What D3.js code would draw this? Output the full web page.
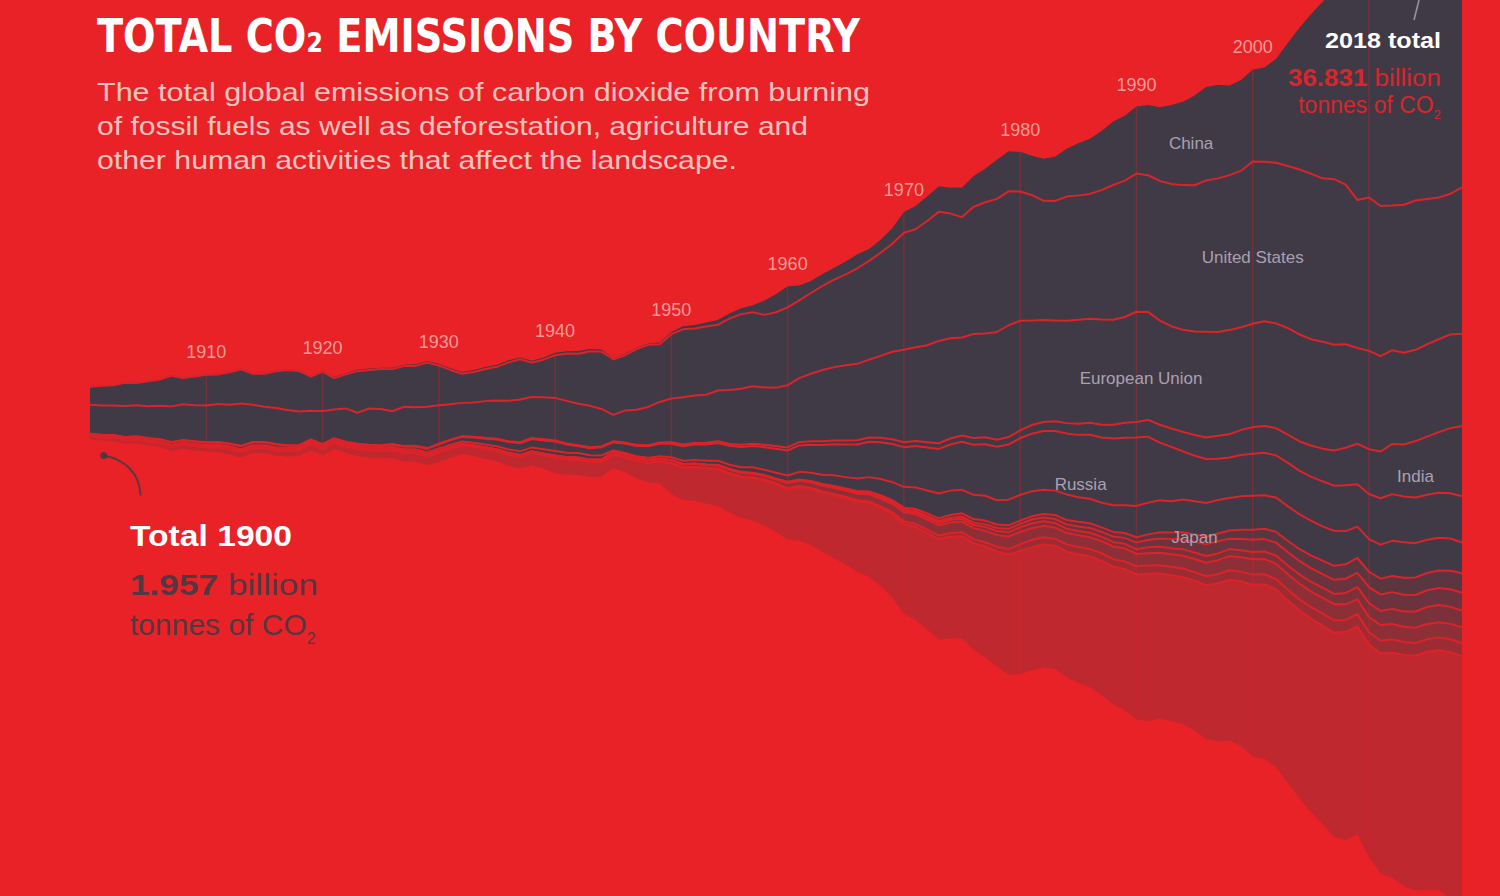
<!DOCTYPE html>
<html><head><meta charset="utf-8">
<script src="https://cdn.jsdelivr.net/npm/d3@7"></script>
<style>html,body{margin:0;padding:0;background:#e92227;overflow:hidden}svg{display:block}</style>
</head><body><svg id="chart" width="1500" height="896"></svg>
<script>
// ---------- DATA (billion tonnes CO2 per year, 1900–2018) ----------
const firstYear = 1900, lastYear = 2018;
const years = d3.range(firstYear, lastYear + 1);

const china = [0.01,0.01,0.01,0.01,0.01,0.01,0.01,0.02,0.02,0.02,
 0.02,0.02,0.02,0.03,0.03,0.03,0.03,0.03,0.03,0.03,
 0.04,0.04,0.04,0.05,0.05,0.05,0.05,0.05,0.06,0.06,
 0.06,0.06,0.06,0.07,0.07,0.08,0.08,0.07,0.07,0.08,
 0.09,0.09,0.10,0.09,0.08,0.04,0.05,0.05,0.05,0.06,
 0.08,0.11,0.13,0.15,0.18,0.19,0.22,0.26,0.53,0.67,
 0.78,0.55,0.44,0.44,0.44,0.48,0.52,0.44,0.48,0.57,
 0.77,0.86,0.91,0.95,0.96,1.10,1.14,1.24,1.45,1.48,
 1.47,1.45,1.56,1.64,1.77,1.93,2.04,2.19,2.35,2.40,
 2.48,2.60,2.73,2.92,3.09,3.32,3.46,3.47,3.32,3.36,
 3.41,3.49,3.84,4.54,5.23,5.90,6.53,7.03,7.38,7.71,
 8.47,9.39,9.54,9.80,9.82,9.72,9.70,9.84,10.06];

const unitedStates = [0.66,0.73,0.75,0.86,0.83,0.93,0.97,1.13,0.98,1.07,
 1.14,1.10,1.20,1.27,1.15,1.22,1.36,1.48,1.50,1.26,
 1.46,1.16,1.26,1.54,1.43,1.48,1.56,1.51,1.53,1.64,
 1.47,1.27,1.08,1.13,1.19,1.25,1.42,1.49,1.27,1.39,
 1.58,1.75,1.85,2.02,2.12,2.06,2.05,2.25,2.30,2.14,
 2.38,2.52,2.48,2.53,2.43,2.64,2.76,2.74,2.69,2.79,
 2.89,2.88,2.99,3.11,3.24,3.37,3.54,3.66,3.82,4.00,
 4.33,4.37,4.60,4.78,4.62,4.46,4.71,4.86,4.93,4.96,
 4.79,4.65,4.42,4.43,4.60,4.61,4.62,4.79,4.99,5.05,
 5.12,5.06,5.17,5.27,5.36,5.42,5.61,5.69,5.74,5.80,
 6.01,5.91,5.95,6.00,6.11,6.13,6.05,6.13,5.91,5.48,
 5.68,5.56,5.36,5.48,5.53,5.38,5.25,5.21,5.42];

const europeanUnion = [1.08,1.08,1.09,1.14,1.15,1.18,1.24,1.32,1.32,1.33,
 1.36,1.40,1.43,1.56,1.38,1.30,1.33,1.30,1.24,1.06,
 1.23,1.06,1.23,1.15,1.34,1.34,1.21,1.45,1.43,1.53,
 1.43,1.31,1.23,1.27,1.36,1.41,1.50,1.58,1.52,1.56,
 1.58,1.58,1.54,1.53,1.38,0.98,1.18,1.30,1.42,1.50,
 1.62,1.75,1.76,1.78,1.88,2.00,2.08,2.13,2.12,2.16,
 2.30,2.37,2.50,2.64,2.72,2.78,2.83,2.88,3.03,3.24,
 3.43,3.47,3.59,3.79,3.71,3.63,3.86,3.84,3.99,4.14,
 4.06,3.87,3.77,3.73,3.79,3.85,3.86,3.90,3.89,3.92,
 4.08,4.00,3.86,3.79,3.78,3.83,3.91,3.84,3.86,3.80,
 3.83,3.88,3.88,3.95,3.96,3.94,3.96,3.92,3.83,3.55,
 3.64,3.53,3.47,3.40,3.38,3.42,3.44,3.47,3.42];

const india = [0.01,0.01,0.01,0.01,0.01,0.01,0.01,0.02,0.02,0.02,
 0.02,0.02,0.02,0.02,0.02,0.02,0.02,0.02,0.03,0.03,
 0.03,0.03,0.03,0.03,0.03,0.03,0.03,0.03,0.03,0.03,
 0.03,0.03,0.03,0.03,0.03,0.03,0.03,0.04,0.04,0.04,
 0.04,0.04,0.04,0.04,0.04,0.04,0.04,0.04,0.04,0.05,
 0.06,0.06,0.06,0.06,0.07,0.07,0.08,0.08,0.09,0.10,
 0.11,0.12,0.13,0.14,0.14,0.15,0.16,0.16,0.17,0.18,
 0.18,0.19,0.20,0.21,0.22,0.23,0.25,0.26,0.26,0.28,
 0.29,0.32,0.34,0.36,0.38,0.41,0.44,0.47,0.51,0.55,
 0.58,0.62,0.66,0.68,0.72,0.77,0.80,0.85,0.86,0.93,
 0.98,0.99,1.01,1.04,1.09,1.15,1.21,1.30,1.39,1.50,
 1.66,1.73,1.86,1.93,2.09,2.15,2.24,2.41,2.60];

const russia = [0.06,0.06,0.06,0.07,0.07,0.06,0.07,0.08,0.08,0.08,
 0.08,0.09,0.09,0.11,0.10,0.10,0.10,0.08,0.04,0.03,
 0.03,0.03,0.03,0.04,0.05,0.06,0.08,0.09,0.10,0.12,
 0.14,0.16,0.17,0.19,0.22,0.25,0.28,0.30,0.31,0.33,
 0.35,0.30,0.25,0.26,0.30,0.30,0.35,0.38,0.42,0.46,
 0.50,0.54,0.57,0.60,0.65,0.70,0.75,0.79,0.84,0.89,
 0.93,0.98,1.04,1.10,1.15,1.21,1.26,1.31,1.36,1.41,
 1.47,1.53,1.59,1.65,1.71,1.78,1.85,1.91,1.98,2.04,
 2.10,2.13,2.17,2.21,2.26,2.31,2.37,2.42,2.47,2.50,
 2.53,2.45,2.14,2.01,1.78,1.68,1.63,1.53,1.50,1.53,
 1.56,1.58,1.56,1.61,1.61,1.63,1.67,1.67,1.70,1.57,
 1.67,1.72,1.73,1.69,1.69,1.67,1.67,1.68,1.71];

const japan = [0.02,0.02,0.02,0.02,0.03,0.03,0.03,0.03,0.03,0.03,
 0.04,0.04,0.05,0.05,0.05,0.05,0.05,0.06,0.06,0.07,
 0.07,0.06,0.06,0.07,0.07,0.07,0.07,0.08,0.08,0.08,
 0.08,0.08,0.08,0.09,0.10,0.11,0.12,0.13,0.14,0.15,
 0.16,0.16,0.16,0.16,0.15,0.06,0.05,0.06,0.08,0.09,
 0.10,0.12,0.13,0.14,0.15,0.15,0.17,0.20,0.19,0.21,
 0.23,0.28,0.30,0.34,0.39,0.42,0.46,0.53,0.60,0.67,
 0.77,0.80,0.85,0.92,0.90,0.87,0.90,0.92,0.90,0.95,
 0.95,0.93,0.90,0.90,0.95,0.91,0.91,0.91,0.99,1.03,
 1.16,1.17,1.18,1.16,1.22,1.23,1.25,1.24,1.20,1.24,
 1.26,1.24,1.27,1.28,1.29,1.29,1.27,1.30,1.23,1.16,
 1.21,1.26,1.30,1.32,1.27,1.23,1.21,1.19,1.14];

const iran = [0,0,0,0,0,0,0,0,0,0,
 0,0,0,0,0,0,0,0,0,0,
 0,0,0,0,0,0,0,0,0,0,
 0.01,0.01,0.01,0.01,0.01,0.01,0.01,0.01,0.01,0.01,
 0.01,0.01,0.01,0.01,0.01,0.01,0.01,0.01,0.01,0.01,
 0.01,0.01,0.01,0.01,0.01,0.02,0.02,0.02,0.02,0.02,
 0.03,0.03,0.03,0.03,0.04,0.04,0.04,0.05,0.05,0.06,
 0.07,0.08,0.09,0.10,0.11,0.12,0.13,0.14,0.13,0.13,
 0.12,0.12,0.13,0.15,0.16,0.17,0.17,0.17,0.17,0.18,
 0.20,0.21,0.23,0.24,0.26,0.27,0.28,0.29,0.31,0.34,
 0.37,0.38,0.40,0.42,0.44,0.47,0.50,0.52,0.53,0.55,
 0.57,0.59,0.60,0.63,0.65,0.64,0.65,0.69,0.72];

const southKorea = [0,0,0,0,0,0,0,0,0,0,
 0,0,0,0,0,0,0,0,0,0,
 0,0,0,0,0,0,0,0,0,0,
 0,0,0,0,0,0,0,0,0,0,
 0,0,0,0,0,0,0,0,0,0,
 0,0,0,0,0.01,0.01,0.01,0.01,0.01,0.01,
 0.01,0.01,0.01,0.02,0.02,0.02,0.03,0.03,0.04,0.04,
 0.05,0.06,0.06,0.07,0.07,0.08,0.09,0.10,0.11,0.13,
 0.13,0.14,0.14,0.15,0.16,0.17,0.18,0.18,0.20,0.22,
 0.25,0.27,0.30,0.34,0.37,0.40,0.43,0.45,0.38,0.42,
 0.45,0.46,0.48,0.49,0.50,0.50,0.50,0.52,0.53,0.53,
 0.59,0.61,0.62,0.62,0.61,0.62,0.63,0.65,0.66];

const saudiArabia = [0,0,0,0,0,0,0,0,0,0,
 0,0,0,0,0,0,0,0,0,0,
 0,0,0,0,0,0,0,0,0,0,
 0,0,0,0,0,0,0,0,0,0,
 0,0,0,0,0,0,0,0,0,0,
 0,0,0,0,0.01,0.01,0.01,0.01,0.01,0.01,
 0.01,0.01,0.01,0.02,0.02,0.02,0.03,0.03,0.04,0.04,
 0.05,0.06,0.08,0.09,0.10,0.10,0.12,0.14,0.15,0.16,
 0.17,0.18,0.17,0.17,0.16,0.16,0.17,0.16,0.17,0.17,
 0.17,0.22,0.23,0.23,0.24,0.24,0.25,0.25,0.26,0.26,
 0.27,0.28,0.30,0.32,0.34,0.36,0.38,0.38,0.42,0.45,
 0.52,0.52,0.56,0.56,0.60,0.63,0.64,0.63,0.62];

const canada = [0.02,0.02,0.02,0.03,0.03,0.03,0.03,0.04,0.04,0.04,
 0.04,0.05,0.05,0.06,0.05,0.05,0.06,0.06,0.06,0.05,
 0.06,0.05,0.05,0.06,0.05,0.05,0.06,0.06,0.06,0.06,
 0.06,0.05,0.04,0.04,0.05,0.05,0.05,0.05,0.05,0.05,
 0.06,0.07,0.07,0.08,0.08,0.08,0.08,0.09,0.09,0.09,
 0.11,0.11,0.11,0.11,0.11,0.12,0.13,0.13,0.13,0.14,
 0.19,0.19,0.20,0.21,0.22,0.23,0.24,0.26,0.28,0.30,
 0.34,0.35,0.37,0.38,0.39,0.40,0.41,0.42,0.43,0.46,
 0.45,0.44,0.42,0.41,0.42,0.43,0.43,0.45,0.47,0.48,
 0.46,0.45,0.46,0.46,0.47,0.49,0.50,0.52,0.52,0.53,
 0.57,0.56,0.57,0.58,0.58,0.58,0.57,0.60,0.58,0.55,
 0.56,0.57,0.57,0.57,0.57,0.56,0.56,0.57,0.59];

const mexico = [0,0,0,0,0,0.01,0.01,0.01,0.01,0.01,
 0.01,0.01,0.01,0.01,0.01,0.01,0.01,0.01,0.01,0.01,
 0.01,0.01,0.01,0.01,0.01,0.01,0.01,0.01,0.01,0.01,
 0.01,0.01,0.01,0.01,0.01,0.01,0.01,0.01,0.01,0.01,
 0.01,0.01,0.01,0.01,0.02,0.02,0.02,0.02,0.02,0.02,
 0.02,0.02,0.03,0.03,0.03,0.03,0.03,0.03,0.04,0.04,
 0.04,0.04,0.04,0.04,0.05,0.05,0.05,0.06,0.06,0.07,
 0.10,0.11,0.12,0.13,0.14,0.14,0.15,0.16,0.18,0.20,
 0.25,0.27,0.27,0.26,0.27,0.28,0.27,0.28,0.28,0.29,
 0.30,0.31,0.31,0.31,0.32,0.31,0.33,0.34,0.36,0.36,
 0.38,0.38,0.38,0.40,0.41,0.43,0.45,0.46,0.45,0.45,
 0.46,0.48,0.49,0.48,0.47,0.47,0.47,0.48,0.47];

const restOfWorld = [0.10,0.10,0.11,0.11,0.12,0.12,0.13,0.14,0.14,0.15,
 0.16,0.17,0.18,0.19,0.18,0.18,0.19,0.20,0.20,0.21,
 0.22,0.22,0.23,0.25,0.26,0.27,0.28,0.30,0.31,0.33,
 0.35,0.33,0.32,0.34,0.36,0.38,0.41,0.44,0.45,0.49,
 0.58,0.57,0.56,0.55,0.52,0.47,0.55,0.64,0.72,0.80,
 1.12,1.18,1.24,1.30,1.36,1.43,1.50,1.58,1.66,1.76,
 1.87,1.98,2.08,2.20,2.33,2.46,2.60,2.74,2.90,3.10,
 3.33,3.45,3.58,3.73,3.76,3.80,3.95,4.10,4.25,4.45,
 4.57,4.55,4.55,4.58,4.65,4.75,4.85,4.97,5.10,5.22,
 5.37,5.45,5.38,5.40,5.45,5.55,5.70,5.85,5.95,6.10,
 6.36,6.45,6.58,6.75,6.95,7.15,7.35,7.55,7.72,7.70,
 7.87,8.15,8.35,8.55,8.70,8.80,8.90,9.10,9.42];

// stacking order: bottom -> top
const seriesNames = ["Rest of world","Mexico","Canada","Saudi Arabia","South Korea","Iran",
                     "Japan","Russia","India","European Union","United States","China"];
const seriesValues = [restOfWorld, mexico, canada, saudiArabia, southKorea, iran,
                      japan, russia, india, europeanUnion, unitedStates, china];
const decadeTicks = [1910,1920,1930,1940,1950,1960,1970,1980,1990,2000,2010];
const labelledCountries = ["China","United States","European Union","India","Russia","Japan"];
const labelYears = [1994.7, 2000, 1990.4, 2014, 1985.2, 1995];
const total1900 = "1.957", total2018 = "36.831";

// ---------- STYLE ----------
const BG = "#e92227", DARK = "#3f3a45", LINE = "#dc2329";
const fillOpacity = {"Rest of world":0.25,"Mexico":0.45,"Canada":0.55,"Saudi Arabia":0.65,
  "South Korea":0.75,"Iran":0.85};
const labelShift = {"China":0,"United States":14,"European Union":11,"India":7,"Russia":18,"Japan":19};

const svg = d3.select("#chart");
svg.append("rect").attr("width",1500).attr("height",896).attr("fill",BG);

const table = years.map((yr,i)=>{
  const row = {year: yr};
  seriesNames.forEach((k,j)=> row[k] = seriesValues[j][i]);
  return row;
});
const stacked = d3.stack().keys(seriesNames)
  .offset(d3.stackOffsetSilhouette).order(d3.stackOrderNone)(table);

const x = d3.scaleLinear().domain([firstYear, lastYear]).range([90, 1462]);
const centerY = 413, pxPerGt = 27.0;
const y = d3.scaleLinear().domain([-20, 20]).range([centerY + 20*pxPerGt, centerY - 20*pxPerGt]);

const area = d3.area().x(d=>x(d.data.year)).y0(d=>y(d[0])).y1(d=>y(d[1])).curve(d3.curveLinear);
const topLine = d3.line().x(d=>x(d.data.year)).y(d=>y(d[1]));

// clip path = whole stream
const outer = d3.area().x(d=>x(d.year))
  .y0((d,i)=>y(stacked[0][i][0])).y1((d,i)=>y(stacked[stacked.length-1][i][1]));
svg.append("clipPath").attr("id","stream").append("path").attr("d", outer(table));

const g = svg.append("g");
g.selectAll("path.layer").data(stacked).join("path")
  .attr("class","layer")
  .attr("d", area)
  .attr("fill", DARK)
  .attr("fill-opacity", d => fillOpacity[d.key] ?? 1);

// decade grid lines inside the stream
g.append("g").attr("clip-path","url(#stream)")
  .selectAll("line").data(decadeTicks).join("line")
  .attr("x1", d=>x(d)).attr("x2", d=>x(d)).attr("y1", 0).attr("y2", 896)
  .attr("stroke", BG).attr("stroke-opacity", 0.3).attr("stroke-width", 1.5);

// boundary lines between layers
g.selectAll("path.sep").data(stacked.slice(0, stacked.length-1)).join("path")
  .attr("class","sep")
  .attr("d", topLine)
  .attr("fill","none").attr("stroke", LINE).attr("stroke-width", 2)
  .attr("stroke-linejoin","round");

// decade labels above the top edge
const topSeries = stacked[stacked.length-1];
svg.append("g").selectAll("text").data(decadeTicks.filter(t=>t<=2000)).join("text")
  .attr("x", d=>x(d))
  .attr("y", d=>y(topSeries[d-firstYear][1]) - 16)
  .attr("text-anchor","middle")
  .attr("font-family","Liberation Sans, Arial, sans-serif")
  .attr("font-size", 18)
  .attr("fill","#f7b2ae").attr("fill-opacity",0.85)
  .text(d=>d);

// country labels
labelledCountries.forEach((name,i)=>{
  const s = stacked.find(t=>t.key===name);
  const yr = labelYears[i];
  const i0 = Math.floor(yr - firstYear);
  const mid = (y(s[i0][0]) + y(s[i0][1]))/2 + labelShift[name];
  svg.append("text").attr("x", x(yr)).attr("y", mid).attr("dy","0.35em")
    .attr("text-anchor","middle")
    .attr("font-family","Liberation Sans, Arial, sans-serif")
    .attr("font-size", 17)
    .attr("fill","#a9a1b2")
    .text(name);
});

// ---------- TITLE ----------
svg.append("text").attr("x",97).attr("y",52).attr("fill","#ffffff")
  .attr("font-family","'DejaVu Sans Condensed','DejaVu Sans',sans-serif")
  .attr("font-weight","bold").attr("font-stretch","condensed").attr("font-size",46)
  .attr("textLength",763).attr("lengthAdjust","spacingAndGlyphs")
  .text("TOTAL CO\u2082 EMISSIONS BY COUNTRY");

const subtitle = ["The total global emissions of carbon dioxide from burning",
  "of fossil fuels as well as deforestation, agriculture and",
  "other human activities that affect the landscape."];
const subLen = [773, 711, 640];
svg.append("g").selectAll("text").data(subtitle).join("text")
  .attr("x",97).attr("y",(d,i)=>101 + i*34)
  .attr("font-family","Liberation Sans, Arial, sans-serif")
  .attr("font-size",26).attr("fill","#f8c3bf")
  .attr("textLength",(d,i)=>subLen[i]).attr("lengthAdjust","spacingAndGlyphs")
  .text(d=>d);

// ---------- 1900 annotation ----------
const b1900 = y(stacked[0][0][0]);
const dotX = x(1901) + 2, dotY = b1900 + 16;
svg.append("circle").attr("cx",dotX).attr("cy",dotY).attr("r",3.5).attr("fill",DARK).attr("fill-opacity",0.85);
svg.append("path")
  .attr("d",`M${dotX},${dotY} C${dotX+22},${dotY+4} ${dotX+36},${dotY+18} ${dotX+37},${dotY+40}`)
  .attr("fill","none").attr("stroke",DARK).attr("stroke-opacity",0.8).attr("stroke-width",2);

const ann = svg.append("g").attr("font-family","Liberation Sans, Arial, sans-serif").attr("font-size",30);
ann.append("text").attr("x",130).attr("y",546).attr("fill","#ffffff").attr("font-weight","bold")
  .attr("textLength",162).attr("lengthAdjust","spacingAndGlyphs").text("Total 1900");
const t2 = ann.append("text").attr("x",130).attr("y",595).attr("fill",DARK).attr("fill-opacity",0.9)
  .attr("textLength",188).attr("lengthAdjust","spacingAndGlyphs");
t2.append("tspan").attr("font-weight","bold").text(total1900);
t2.append("tspan").text(" billion");
const t3 = ann.append("text").attr("x",130).attr("y",635).attr("fill",DARK).attr("fill-opacity",0.9);
t3.append("tspan").text("tonnes of CO");
t3.append("tspan").attr("font-size",16).attr("dy",9).text("2");

// ---------- 2018 annotation ----------
const rx = 1441;
svg.append("line").attr("x1",x(lastYear)-43).attr("y1",0).attr("x2",x(lastYear)-48).attr("y2",20)
  .attr("stroke","#9a94a0").attr("stroke-width",1.5);
const ann2 = svg.append("g").attr("font-family","Liberation Sans, Arial, sans-serif").attr("text-anchor","end");
ann2.append("text").attr("x",rx).attr("y",48).attr("font-size",22).attr("font-weight","bold")
  .attr("fill","#ffffff").attr("textLength",116).attr("lengthAdjust","spacingAndGlyphs").text("2018 total");
const r2 = ann2.append("text").attr("x",rx).attr("y",86).attr("font-size",23).attr("fill","#d8262d")
  .attr("textLength",153).attr("lengthAdjust","spacingAndGlyphs");
r2.append("tspan").attr("font-weight","bold").text(total2018);
r2.append("tspan").text(" billion");
const r3 = ann2.append("text").attr("x",rx).attr("y",113).attr("font-size",23).attr("fill","#d8262d");
r3.append("tspan").text("tonnes of CO");
r3.append("tspan").attr("font-size",13).attr("dy",6).text("2");
</script></body></html>
